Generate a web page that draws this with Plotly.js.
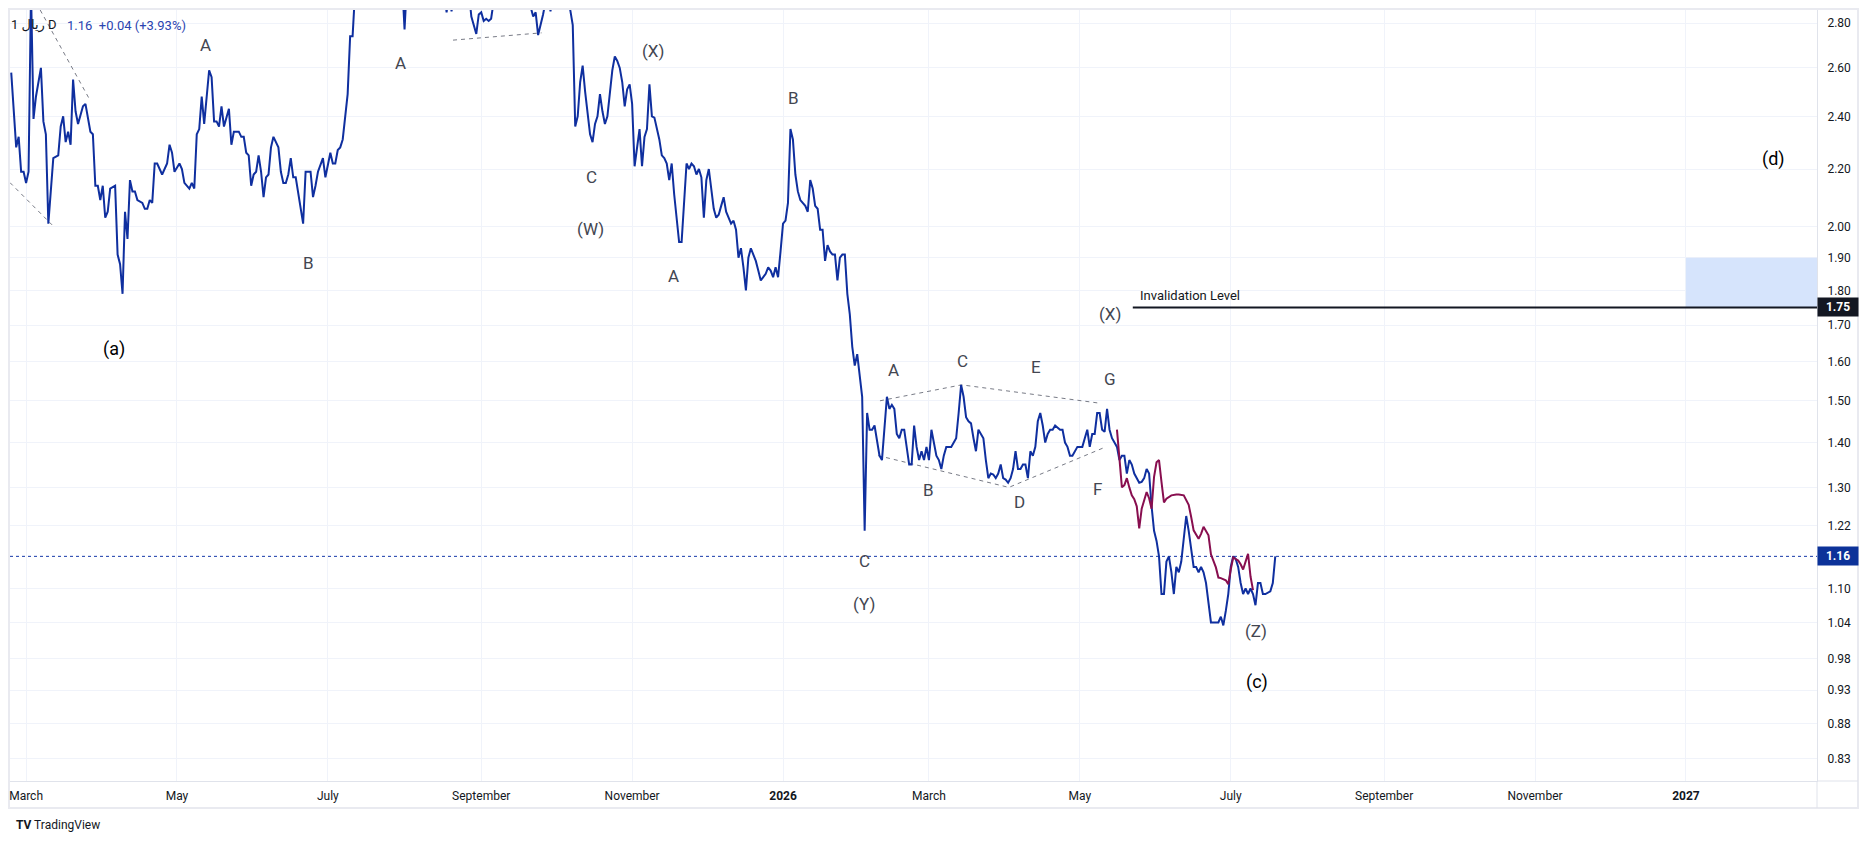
<!DOCTYPE html>
<html>
<head>
<meta charset="utf-8">
<script src="https://cdn.plot.ly/plotly-3.0.1.min.js"></script>
<style>
  html, body { margin: 0; padding: 0; background: #ffffff; }
  #chart { width: 1869px; height: 844px; }
</style>
</head>
<body>
<div id="chart"></div>
<script>
// day numbers below count from 1 March 2025 (= day 0)
var START_UTC = Date.UTC(2025, 2, 1);

// daily close, blue series
var priceDays = [
  -6, -4, -3, -2, -1, 0, 1, 2, 3, 4, 6, 7, 8, 9, 11, 13, 14, 15, 16, 17, 18, 19, 20, 21, 23, 24, 26, 27, 28, 29,
  30, 31, 32, 33, 34, 36, 37, 38, 39, 40, 41, 42, 43, 44, 45, 47, 48, 49, 50, 51, 52, 53, 55, 57, 58, 59, 60,
  62, 63, 64, 66, 67, 68, 69, 70, 71, 72, 73, 74, 75, 76, 77, 78, 79, 80, 82, 83, 84, 86, 87, 88, 89, 90, 91,
  92, 93, 94, 95, 96, 97, 98, 99, 100, 102, 103, 104, 105, 106, 107, 108, 109, 112, 113, 115, 116, 117, 118,
  120, 121, 123, 124, 125, 126, 127, 128, 130, 131, 132, 133, 137, 142, 147, 152, 153, 154, 160, 166, 169,
  170, 171, 172, 173, 176, 179, 180, 181, 182, 183, 184, 185, 186, 187, 188, 189, 193, 198, 203, 205, 206,
  207, 208, 209, 210, 211, 212, 213, 216, 219, 220, 221, 222, 223, 224, 225, 226, 227, 228, 229, 230, 231,
  232, 233, 234, 235, 236, 237, 238, 239, 240, 241, 242, 243, 244, 245, 246, 247, 248, 249, 250, 251, 252,
  253, 254, 256, 257, 258, 259, 260, 261, 262, 263, 264, 265, 266, 267, 268, 269, 270, 271, 272, 273, 274,
  275, 276, 277, 278, 279, 280, 281, 282, 283, 284, 285, 286, 287, 288, 289, 290, 291, 292, 293, 294, 295,
  296, 297, 299, 300, 301, 302, 303, 304, 305, 306, 307, 308, 309, 310, 311, 312, 313, 314, 315, 316, 317,
  318, 319, 320, 321, 322, 323, 324, 325, 326, 327, 328, 329, 330, 331, 332, 333, 334, 335, 336, 337, 338,
  339, 340, 341, 342, 343, 344, 345, 346, 347, 348, 349, 350, 351, 352, 353, 354, 355, 356, 357, 358, 359,
  360, 361, 362, 363, 364, 365, 366, 367, 368, 369, 370, 371, 372, 374, 375, 376, 377, 378, 379, 380, 381,
  382, 383, 384, 385, 386, 387, 388, 389, 390, 391, 392, 393, 394, 395, 396, 397, 398, 399, 400, 401, 402,
  403, 404, 405, 406, 407, 408, 409, 410, 411, 412, 413, 414, 415, 416, 417, 418, 419, 420, 421, 422, 423,
  424, 425, 426, 427, 428, 429, 430, 431, 432, 433, 434, 435, 436, 437, 438, 439, 440, 441, 442, 443, 444,
  445, 446, 447, 448, 450, 451, 452, 453, 454, 455, 456, 457, 458, 459, 460, 461, 462, 463, 464, 465, 466,
  467, 468, 469, 470, 471, 472, 473, 474, 475, 476, 477, 478, 479, 480, 481, 482, 483, 484, 485, 486, 487,
  488, 489, 490, 491, 492, 493, 494, 495, 496, 497, 498, 499, 500, 501, 503, 504, 505
];
var priceValues = [
  2.58, 2.28, 2.32, 2.19, 2.19, 2.15, 2.19, 2.95, 2.39, 2.48, 2.60, 2.38, 2.33, 2.01, 2.24, 2.25, 2.36, 2.40, 2.30, 2.34, 2.29, 2.55, 2.42, 2.37, 2.44, 2.45, 2.34, 2.33, 2.14, 2.14,
  2.09, 2.14, 2.03, 2.05, 2.13, 2.14, 1.91, 1.88, 1.79, 2.05, 1.96, 2.16, 2.12, 2.12, 2.09, 2.08, 2.06, 2.06, 2.09, 2.08, 2.22, 2.22, 2.18, 2.22, 2.29, 2.26, 2.19,
  2.22, 2.20, 2.15, 2.13, 2.15, 2.13, 2.33, 2.35, 2.48, 2.37, 2.48, 2.59, 2.56, 2.38, 2.38, 2.36, 2.44, 2.36, 2.43, 2.29, 2.34, 2.34, 2.32, 2.32, 2.26, 2.25, 2.14,
  2.18, 2.19, 2.25, 2.19, 2.10, 2.17, 2.18, 2.28, 2.32, 2.28, 2.19, 2.15, 2.15, 2.18, 2.24, 2.17, 2.17, 2.01, 2.19, 2.19, 2.10, 2.14, 2.19,
  2.24, 2.17, 2.26, 2.22, 2.22, 2.27, 2.28, 2.31, 2.49, 2.74, 2.74, 2.95, 3.15, 3.05, 3.20, 3.00, 2.77, 3.00, 3.20, 3.10, 2.95,
  2.85, 2.95, 2.855, 2.95, 3.05, 2.95, 2.83, 2.79, 2.75, 2.84, 2.85, 2.81, 2.82, 2.81, 2.82, 2.90, 3.10, 3.00, 2.92, 2.83, 2.85,
  2.745, 2.79, 2.84, 2.90, 2.95, 2.855, 2.95, 3.10, 2.90, 2.86, 2.79, 2.36, 2.40, 2.54, 2.61, 2.50, 2.42, 2.33, 2.30, 2.37, 2.40,
  2.49, 2.42, 2.37, 2.40, 2.50, 2.59, 2.65, 2.63, 2.60, 2.54, 2.44, 2.51, 2.53, 2.45, 2.21, 2.28, 2.35, 2.21, 2.32, 2.35, 2.53,
  2.40, 2.395, 2.31, 2.25, 2.24, 2.22, 2.16, 2.22, 2.11, 2.03, 1.95, 1.95, 2.08, 2.22, 2.20, 2.22, 2.21, 2.18, 2.20, 2.17, 2.03,
  2.16, 2.20, 2.12, 2.06, 2.03, 2.04, 2.07, 2.10, 2.05, 2.03, 2.01, 2.02, 1.99, 1.90, 1.93, 1.87, 1.80, 1.90, 1.93, 1.91, 1.89,
  1.86, 1.83, 1.85, 1.87, 1.86, 1.84, 1.87, 1.84, 1.92, 2.01, 2.02, 2.08, 2.35, 2.31, 2.18, 2.12, 2.09, 2.08, 2.07, 2.05, 2.16,
  2.13, 2.07, 2.06, 1.99, 1.99, 1.89, 1.94, 1.92, 1.91, 1.91, 1.83, 1.90, 1.91, 1.91, 1.79, 1.73, 1.64, 1.59, 1.62, 1.56, 1.51,
  1.21, 1.47, 1.43, 1.43, 1.44, 1.40, 1.37, 1.36, 1.44, 1.51, 1.48, 1.49, 1.48, 1.42, 1.41, 1.43, 1.43, 1.39, 1.35, 1.35, 1.44,
  1.39, 1.36, 1.38, 1.36, 1.39, 1.36, 1.43, 1.40, 1.37, 1.36, 1.34, 1.37, 1.39, 1.39, 1.40, 1.41, 1.47, 1.54, 1.51, 1.46, 1.45,
  1.445, 1.41, 1.38, 1.43, 1.42, 1.41, 1.36, 1.32, 1.33, 1.328, 1.32, 1.33, 1.35, 1.32, 1.317, 1.31, 1.32, 1.34, 1.38, 1.34, 1.34,
  1.35, 1.35, 1.32, 1.38, 1.37, 1.39, 1.45, 1.47, 1.44, 1.40, 1.42, 1.43, 1.43, 1.44, 1.435, 1.43, 1.43, 1.40, 1.39, 1.37, 1.37,
  1.38, 1.39, 1.39, 1.39, 1.41, 1.43, 1.39, 1.42, 1.42, 1.47, 1.47, 1.43, 1.425, 1.48, 1.43, 1.41, 1.40, 1.39, 1.36, 1.37, 1.37,
  1.33, 1.36, 1.35, 1.33, 1.31, 1.312, 1.32, 1.34, 1.33, 1.26, 1.21, 1.19, 1.16, 1.09, 1.09, 1.15, 1.16, 1.13, 1.09, 1.14, 1.13,
  1.15, 1.19, 1.24, 1.21, 1.17, 1.14, 1.14, 1.13, 1.14, 1.13, 1.11, 1.075, 1.04, 1.04, 1.04, 1.04, 1.05, 1.035, 1.06, 1.09, 1.14,
  1.16, 1.155, 1.14, 1.11, 1.09, 1.10, 1.09, 1.10, 1.09, 1.07, 1.11, 1.11, 1.09, 1.09, 1.095, 1.11, 1.16
];

// projected path (maroon)
var projDays = [
  441, 442, 443, 444, 445, 446, 447, 448, 449, 450, 451, 453, 454, 455, 456, 457, 458, 459, 460, 461, 463, 465,
  466, 468, 470, 471, 472, 474, 475, 476, 478, 479, 481, 482, 483, 485, 486, 487, 488, 489, 490, 491, 492, 493,
  494, 495, 496
];
var projValues = [
  1.43, 1.372, 1.30, 1.305, 1.32, 1.30, 1.283, 1.275, 1.26, 1.215, 1.255, 1.29, 1.277, 1.255, 1.323, 1.355, 1.36,
  1.312, 1.268, 1.276, 1.283, 1.285, 1.285, 1.283, 1.263, 1.238, 1.211, 1.194, 1.204, 1.218, 1.201, 1.164, 1.139,
  1.12, 1.119, 1.115, 1.108, 1.135, 1.158, 1.155, 1.152, 1.145, 1.135, 1.15, 1.165, 1.122, 1.097
];

var lastPrice = 1.16;
var invalidationLevel = 1.75;
var invalidationFromDay = 447.4;
var targetZoneLow = 1.75;
var targetZoneHigh = 1.90;
var targetZoneFromDay = 671;

// dashed drawings: [days], [prices]
var trendLines = [
  [[5.7, 25.9], [2.861, 2.464]],
  [[-6.5, 10.5], [2.151, 2.006]],
  [[172.6, 208.4], [2.722, 2.755]],
  [[345.2, 378.2, 434.1], [1.50, 1.54, 1.494]],
  [[344.5, 397.3, 436.5], [1.37, 1.30, 1.39]]
];

// wave labels
var waveText = ['A', 'A', 'B', '(a)', '(X)', 'C', '(W)', 'A', 'B', 'A', 'C', 'E', 'B', 'D', 'G', 'F',
                'C', '(Y)', '(X)', '(Z)', '(c)', '(d)'];
var waveDays = [72.6, 151.5, 114.0, 35.6, 253.6, 228.7, 228.0, 261.6, 310.4, 350.8, 378.5, 408.2, 364.7,
                401.8, 438.1, 433.0, 338.8, 338.8, 438.1, 497.4, 497.8, 706.3];
var wavePrices = [2.700, 2.621, 1.883, 1.635, 2.673, 2.170, 1.991, 1.843, 2.475, 1.578, 1.601, 1.585, 1.294,
                  1.269, 1.554, 1.296, 1.152, 1.073, 1.732, 1.026, 0.943, 2.237];
var majorDegree = ['(a)', '(c)', '(d)'];

var yTickValues = [0.83, 0.88, 0.93, 0.98, 1.04, 1.10, 1.22, 1.30, 1.40, 1.50, 1.60, 1.70, 1.80, 1.90,
                   2.00, 2.20, 2.40, 2.60, 2.80];
var monthTickDays = [0, 61, 122, 184, 245, 306, 365, 426, 487, 549, 610, 671];
var monthTickLabels = ['March', 'May', 'July', 'September', 'November', '<b>2026</b>',
                       'March', 'May', 'July', 'September', 'November', '<b>2027</b>'];

var X_FIRST_DAY = -6.5;
var X_LAST_DAY = 724;
var Y_MIN = 0.8003;
var Y_MAX = 2.861;

function dayToDate(d) {
  return new Date(START_UTC + d * 86400000).toISOString().slice(0, 19).replace('T', ' ');
}

var FONT = 'Roboto, "DejaVu Sans", sans-serif';
var xEnd = dayToDate(X_LAST_DAY);
var xBegin = dayToDate(X_FIRST_DAY);

var data = [];

// target zone
var z0 = dayToDate(targetZoneFromDay);
data.push({
  x: [z0, xEnd, xEnd, z0, z0],
  y: [targetZoneLow, targetZoneLow, targetZoneHigh, targetZoneHigh, targetZoneLow],
  type: 'scatter', mode: 'lines', fill: 'toself',
  fillcolor: '#d6e4fc', line: {width: 0}, hoverinfo: 'skip'
});

for (var i = 0; i < trendLines.length; i++) {
  data.push({
    x: trendLines[i][0].map(dayToDate),
    y: trendLines[i][1],
    type: 'scatter', mode: 'lines',
    line: {color: '#787b86', width: 1, dash: '4px,4px'},
    hoverinfo: 'skip'
  });
}

// last price dotted line
data.push({
  x: [xBegin, xEnd], y: [lastPrice, lastPrice],
  type: 'scatter', mode: 'lines',
  line: {color: '#1538a8', width: 1, dash: 'dot'}, hoverinfo: 'skip'
});

data.push({
  x: priceDays.map(dayToDate), y: priceValues,
  type: 'scatter', mode: 'lines',
  line: {color: '#0f2f9f', width: 2}, hoverinfo: 'skip'
});

data.push({
  x: projDays.map(dayToDate), y: projValues,
  type: 'scatter', mode: 'lines',
  line: {color: '#880e4f', width: 2}, hoverinfo: 'skip'
});

data.push({
  x: [dayToDate(invalidationFromDay), xEnd], y: [invalidationLevel, invalidationLevel],
  type: 'scatter', mode: 'lines',
  line: {color: '#131722', width: 2}, hoverinfo: 'skip'
});

var annotations = [];
for (var j = 0; j < waveText.length; j++) {
  var major = majorDegree.indexOf(waveText[j]) >= 0;
  annotations.push({
    x: dayToDate(waveDays[j]), y: Math.log10(wavePrices[j]),
    xref: 'x', yref: 'y', text: waveText[j], showarrow: false,
    xanchor: 'center', yanchor: 'middle',
    font: {family: FONT, size: major ? 18 : 17, color: major ? '#000000' : '#434651'}
  });
}

annotations.push({
  x: dayToDate(449.5), y: Math.log10(1.785), xref: 'x', yref: 'y',
  text: 'Invalidation Level', showarrow: false, xanchor: 'left', yanchor: 'middle',
  font: {family: FONT, size: 13, color: '#131722'}
});

// axis price tags
annotations.push({
  xref: 'paper', x: 1, xanchor: 'left', yref: 'y', y: Math.log10(lastPrice), yanchor: 'middle',
  text: '<b>' + lastPrice.toFixed(2) + '</b>', showarrow: false, bgcolor: '#0c3299',
  width: 36, borderpad: 2, align: 'center', font: {family: FONT, size: 12, color: '#ffffff'}
});
annotations.push({
  xref: 'paper', x: 1, xanchor: 'left', yref: 'y', y: Math.log10(invalidationLevel), yanchor: 'middle',
  text: '<b>' + invalidationLevel.toFixed(2) + '</b>', showarrow: false, bgcolor: '#131722',
  width: 36, borderpad: 2, align: 'center', font: {family: FONT, size: 12, color: '#ffffff'}
});

// header and logo
annotations.push({
  xref: 'paper', yref: 'paper', x: 0.0273, y: 0.9805, xanchor: 'right', yanchor: 'middle',
  text: '1 ریال D', showarrow: false, font: {family: FONT, size: 13, color: '#131722'}
});
annotations.push({
  xref: 'paper', yref: 'paper', x: 0.0305, y: 0.9805, xanchor: 'left', yanchor: 'middle',
  text: '1.16  +0.04 (+3.93%)', showarrow: false, font: {family: FONT, size: 13, color: '#2a44b0'}
});
annotations.push({
  xref: 'paper', yref: 'paper', x: 0.0022, y: -0.057, xanchor: 'left', yanchor: 'middle',
  text: '<b>TV</b> TradingView', showarrow: false, font: {family: FONT, size: 12, color: '#131722'}
});

var layout = {
  width: 1869,
  height: 844,
  margin: {l: 10, r: 52, t: 10, b: 63, pad: 0},
  paper_bgcolor: '#ffffff',
  plot_bgcolor: '#ffffff',
  showlegend: false,
  hovermode: false,
  xaxis: {
    type: 'date',
    range: [xBegin, xEnd],
    tickmode: 'array',
    tickvals: monthTickDays.map(dayToDate),
    ticktext: monthTickLabels,
    showgrid: true, gridcolor: '#f0f3fa', gridwidth: 1,
    showline: true, linecolor: '#e0e3eb', linewidth: 1,
    zeroline: false, ticks: '', ticklabelstandoff: 4,
    tickfont: {family: FONT, size: 12, color: '#131722'},
    fixedrange: true
  },
  yaxis: {
    type: 'log',
    side: 'right',
    range: [Math.log10(Y_MIN), Math.log10(Y_MAX)],
    tickmode: 'array',
    tickvals: yTickValues,
    ticktext: yTickValues.map(function (v) { return v.toFixed(2); }),
    showgrid: true, gridcolor: '#f0f3fa', gridwidth: 1,
    showline: true, linecolor: '#e0e3eb', linewidth: 1,
    zeroline: false, ticks: '', ticklabelstandoff: 7,
    tickfont: {family: FONT, size: 12, color: '#131722'},
    fixedrange: true
  },
  shapes: [
    // outer frame of the chart panel
    {type: 'rect', xref: 'paper', yref: 'paper', x0: -0.00055, x1: 1.0227, y0: -0.035, y1: 1.0013,
     line: {color: '#e9eaf0', width: 2}, layer: 'below'},
    {type: 'line', xref: 'paper', yref: 'paper', x0: 1, x1: 1, y0: -0.035, y1: 0,
     line: {color: '#e0e3eb', width: 1}},
    {type: 'line', xref: 'paper', yref: 'paper', x0: 1, x1: 1.0227, y0: 0, y1: 0,
     line: {color: '#e0e3eb', width: 1}}
  ],
  annotations: annotations
};

Plotly.newPlot('chart', data, layout, {displayModeBar: false, staticPlot: true});
</script>
</body>
</html>
